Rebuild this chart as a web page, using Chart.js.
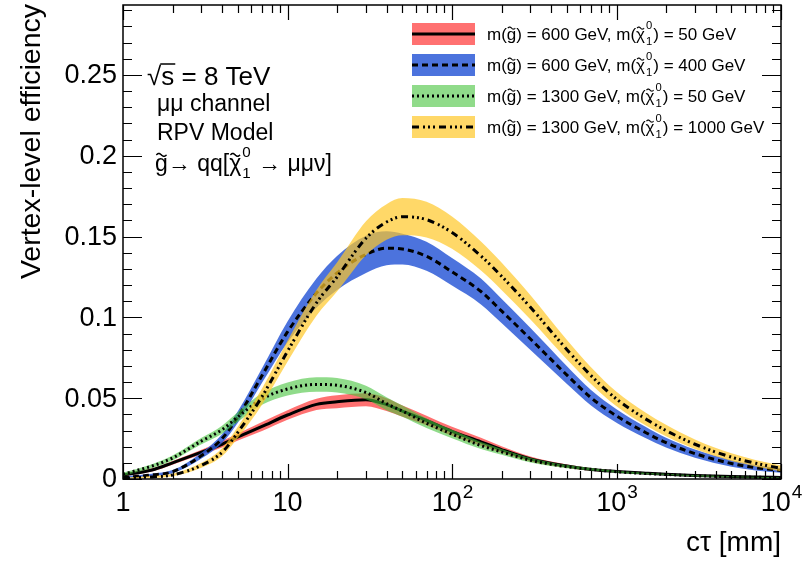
<!DOCTYPE html>
<html>
<head>
<meta charset="utf-8">
<script src="https://cdn.jsdelivr.net/npm/chart.js@4/dist/chart.umd.min.js"></script>
<style>
  html, body { margin: 0; padding: 0; background: #fff; }
  #wrap { width: 802px; height: 565px; }
</style>
</head>
<body>
<div id="wrap"><canvas id="c" width="802" height="565"></canvas></div>
<script>
// Proper decay length c*tau [mm] at which the efficiency was evaluated
const ctau = [1, 1.5, 2, 3, 4, 5, 7, 10, 15, 20, 30, 40, 50, 70, 100, 150, 200, 300, 500, 700, 1000, 1500, 2000, 3000, 5000, 7000, 10000];

// m(gluino) = 600 GeV, m(neutralino) = 50 GeV
const eff600_50 = [0.0025, 0.0056, 0.0100, 0.0166, 0.0215, 0.0260, 0.0325, 0.0396, 0.0462, 0.0478, 0.0490, 0.0460, 0.0420, 0.0362, 0.0295, 0.0230, 0.0182, 0.0124, 0.0080, 0.0059, 0.0047, 0.0036, 0.0029, 0.0022, 0.0015, 0.0012, 0.0010];
const err600_50 = [0.0008, 0.0010, 0.0012, 0.0015, 0.0020, 0.0022, 0.0028, 0.0030, 0.0035, 0.0040, 0.0040, 0.0040, 0.0035, 0.0030, 0.0028, 0.0025, 0.0020, 0.0015, 0.0010, 0.0008, 0.0006, 0.0005, 0.0005, 0.0004, 0.0004, 0.0003, 0.0003];

// m(gluino) = 600 GeV, m(neutralino) = 400 GeV
const eff600_400 = [0.0010, 0.0025, 0.0045, 0.0145, 0.0250, 0.0385, 0.0640, 0.0910, 0.1150, 0.1275, 0.1390, 0.1428, 0.1423, 0.1378, 0.1282, 0.1160, 0.1040, 0.0866, 0.0643, 0.0503, 0.0390, 0.0288, 0.0225, 0.0157, 0.0096, 0.0070, 0.0053];
const err600_400 = [0.0005, 0.0007, 0.0010, 0.0018, 0.0027, 0.0035, 0.0045, 0.0065, 0.0090, 0.0105, 0.0115, 0.0105, 0.0095, 0.0090, 0.0085, 0.0080, 0.0075, 0.0068, 0.0055, 0.0048, 0.0042, 0.0035, 0.0030, 0.0025, 0.0020, 0.0017, 0.0015];

// m(gluino) = 1300 GeV, m(neutralino) = 50 GeV
const eff1300_50 = [0.0030, 0.0080, 0.0130, 0.0235, 0.0305, 0.0385, 0.0495, 0.0557, 0.0585, 0.0580, 0.0535, 0.0466, 0.0420, 0.0345, 0.0278, 0.0207, 0.0168, 0.0116, 0.0076, 0.0060, 0.0045, 0.0034, 0.0028, 0.0020, 0.0014, 0.0011, 0.0008];
const err1300_50 = [0.0010, 0.0012, 0.0015, 0.0020, 0.0025, 0.0030, 0.0035, 0.0040, 0.0045, 0.0045, 0.0042, 0.0040, 0.0035, 0.0030, 0.0026, 0.0022, 0.0018, 0.0014, 0.0010, 0.0008, 0.0006, 0.0005, 0.0004, 0.0004, 0.0003, 0.0003, 0.0002];

// m(gluino) = 1300 GeV, m(neutralino) = 1000 GeV
const eff1300_1000 = [0.0005, 0.0013, 0.0025, 0.0085, 0.0165, 0.0290, 0.0510, 0.0790, 0.1090, 0.1250, 0.1490, 0.1590, 0.1623, 0.1605, 0.1525, 0.1380, 0.1255, 0.1062, 0.0800, 0.0640, 0.0495, 0.0372, 0.0300, 0.0215, 0.0135, 0.0098, 0.0066];
const err1300_1000 = [0.0004, 0.0006, 0.0008, 0.0015, 0.0025, 0.0035, 0.0050, 0.0065, 0.0080, 0.0090, 0.0105, 0.0110, 0.0115, 0.0110, 0.0100, 0.0090, 0.0085, 0.0075, 0.0060, 0.0052, 0.0045, 0.0040, 0.0036, 0.0030, 0.0024, 0.0020, 0.0018];

// Legend masses [GeV]
const gluinoMass = [600, 600, 1300, 1300];
const neutralinoMass = [50, 400, 50, 1000];

// Axis ticks and labels
const xMajor = [1, 10, 100, 1000, 10000];
const xLabelBase = ['1', '10', '10', '10', '10'];
const xLabelExp = ['', '', '2', '3', '4'];
const yMajor = [0, 0.05, 0.1, 0.15, 0.2, 0.25];
const yLabels = ['0', '0.05', '0.1', '0.15', '0.2', '0.25'];
const yMax = 0.2933;

const FONT = '"Liberation Sans", Arial, Helvetica, sans-serif';
const font = px => px + 'px ' + FONT;

const series = [
  { eff: eff600_50,    err: err600_50,    band: 'rgba(255,18,18,0.6)',  dash: [] },
  { eff: eff600_400,   err: err600_400,   band: 'rgba(45,90,215,0.85)', dash: [6, 4] },
  { eff: eff1300_50,   err: err1300_50,   band: 'rgba(70,195,60,0.6)',  dash: [2, 3] },
  { eff: eff1300_1000, err: err1300_1000, band: 'rgba(255,200,40,0.7)', dash: [7, 4, 2, 3, 2, 3, 2, 4] }
];

const pts = vals => ctau.map((c, i) => ({ x: c, y: vals[i] }));

const datasets = [];
series.forEach((s, k) => {
  const base = (series.length - k) * 3;
  const hi = s.eff.map((v, i) => v + s.err[i]);
  const lo = s.eff.map((v, i) => Math.max(0, v - s.err[i]));
  datasets.push({
    data: pts(hi), fill: '+1', backgroundColor: s.band, borderColor: 'rgba(0,0,0,0)',
    borderWidth: 0, pointRadius: 0, cubicInterpolationMode: 'monotone', order: base + 2
  });
  datasets.push({
    data: pts(lo), fill: false, borderColor: 'rgba(0,0,0,0)',
    borderWidth: 0, pointRadius: 0, cubicInterpolationMode: 'monotone', order: base + 1
  });
  datasets.push({
    data: pts(s.eff), fill: false, borderColor: '#000', borderWidth: 3, borderDash: s.dash,
    borderCapStyle: 'butt', pointRadius: 0, cubicInterpolationMode: 'monotone', order: base
  });
});

function drawTilde(ctx, cx, cy, w, h, lw) {
  ctx.save();
  ctx.beginPath();
  ctx.lineWidth = lw;
  ctx.strokeStyle = '#000';
  for (let i = 0; i <= 20; i++) {
    const t = i / 20;
    const px = cx - w / 2 + t * w;
    const py = cy - Math.sin(2 * Math.PI * t) * h / 2;
    if (i) ctx.lineTo(px, py); else ctx.moveTo(px, py);
  }
  ctx.stroke();
  ctx.restore();
}

// Text with tilde accents and stacked sub/superscripts
function drawRich(ctx, x, y, parts, size) {
  ctx.textAlign = 'left';
  ctx.textBaseline = 'alphabetic';
  ctx.fillStyle = '#000';
  for (const p of parts) {
    if (typeof p === 'string') {
      ctx.font = font(size);
      ctx.fillText(p, x, y);
      x += ctx.measureText(p).width;
    } else if (p.tl) {
      ctx.font = font(size);
      const w = ctx.measureText(p.tl).width;
      ctx.fillText(p.tl, x, y);
      drawTilde(ctx, x + w / 2, y - size * 0.7, w * 0.8, size * 0.12, Math.max(1, size * 0.065));
      x += w;
    } else {
      const s = size * 0.66;
      ctx.font = font(s);
      const w = Math.max(ctx.measureText(p.sub).width, ctx.measureText(p.sup).width);
      ctx.fillText(p.sup, x + 1, y - size * 0.62);
      ctx.fillText(p.sub, x + 1, y + size * 0.3);
      x += w + 2;
    }
  }
  return x;
}

const decor = {
  id: 'decor',
  afterDraw(chart) {
    const { ctx, chartArea: a, scales } = chart;
    const xs = scales.x, ys = scales.y;
    ctx.save();
    ctx.strokeStyle = '#000';
    ctx.fillStyle = '#000';
    ctx.setLineDash([]);

    // frame
    ctx.lineWidth = 1.5;
    ctx.strokeRect(a.left, a.top, a.right - a.left, a.bottom - a.top);

    // y ticks (left and right, pointing inwards)
    ctx.lineWidth = 1.2;
    for (let i = 0; i <= 29; i++) {
      const py = Math.round(ys.getPixelForValue(i / 100)) + 0.5;
      const len = i % 5 === 0 ? 19 : 9;
      ctx.beginPath();
      ctx.moveTo(a.left, py); ctx.lineTo(a.left + len, py);
      ctx.moveTo(a.right, py); ctx.lineTo(a.right - len, py);
      ctx.stroke();
    }
    // x ticks (bottom and top)
    for (const d of [1, 10, 100, 1000]) {
      for (let k = 1; k <= 10; k++) {
        const v = k * d;
        if (k === 10 && d !== 1000) continue;
        const px = Math.round(xs.getPixelForValue(v)) + 0.5;
        const len = (k === 1 || k === 10) ? 15 : 8;
        ctx.beginPath();
        ctx.moveTo(px, a.bottom); ctx.lineTo(px, a.bottom - len);
        ctx.moveTo(px, a.top); ctx.lineTo(px, a.top + len);
        ctx.stroke();
      }
    }

    // y tick labels
    ctx.font = font(27);
    ctx.textAlign = 'right';
    ctx.textBaseline = 'middle';
    yMajor.forEach((v, i) => ctx.fillText(yLabels[i], a.left - 6, ys.getPixelForValue(v) + 1));

    // x tick labels
    ctx.textBaseline = 'alphabetic';
    ctx.textAlign = 'left';
    xMajor.forEach((v, i) => {
      const px = xs.getPixelForValue(v);
      ctx.font = font(27);
      const wb = ctx.measureText(xLabelBase[i]).width;
      ctx.font = font(19);
      const we = xLabelExp[i] ? ctx.measureText(xLabelExp[i]).width : 0;
      const x0 = px - (wb + we) / 2;
      ctx.font = font(27);
      ctx.fillText(xLabelBase[i], x0, 511);
      if (xLabelExp[i]) { ctx.font = font(19); ctx.fillText(xLabelExp[i], x0 + wb + 1, 498); }
    });

    // axis titles
    ctx.font = font(28);
    ctx.textAlign = 'right';
    ctx.fillText('c\u03C4 [mm]', a.right, 551);
    ctx.save();
    ctx.translate(40, a.top - 1);
    ctx.rotate(-Math.PI / 2);
    ctx.textAlign = 'right';
    ctx.font = font(28.5);
    ctx.fillText('Vertex-level efficiency', 0, 0);
    ctx.restore();

    // sqrt(s) label
    ctx.textAlign = 'left';
    ctx.font = font(26);
    const rx = 147, ry = 85;
    ctx.fillText('\u221A', rx, ry);
    const wr = ctx.measureText('\u221A').width;
    ctx.fillText('s = 8 TeV', rx + wr, ry);
    const ws = ctx.measureText('s').width;
    ctx.lineWidth = 1.5;
    ctx.beginPath();
    ctx.moveTo(rx + wr - 1, ry - 21);
    ctx.lineTo(rx + wr + ws + 1, ry - 21);
    ctx.stroke();

    ctx.font = font(23);
    ctx.fillText('\u03BC\u03BC channel', 157, 111);
    ctx.fillText('RPV Model', 157, 140);
    drawRich(ctx, 155, 171, [{ tl: 'g' }, '\u2192 qq[', { tl: '\u03C7' }, { sub: '1', sup: '0' }, ' \u2192 \u03BC\u03BC\u03BD]'], 23);

    // legend
    series.forEach((s, i) => {
      const cy = 34 + i * 31;
      ctx.fillStyle = s.band;
      ctx.fillRect(412, cy - 11, 63, 22);
      ctx.strokeStyle = '#000';
      ctx.lineWidth = 3;
      ctx.lineCap = 'butt';
      ctx.setLineDash(s.dash);
      ctx.beginPath();
      ctx.moveTo(412, cy); ctx.lineTo(475, cy);
      ctx.stroke();
      ctx.setLineDash([]);
      drawRich(ctx, 487, cy + 6, [
        'm(', { tl: 'g' }, ') = ' + gluinoMass[i] + ' GeV, m(', { tl: '\u03C7' },
        { sub: '1', sup: '0' }, ') = ' + neutralinoMass[i] + ' GeV'
      ], 17);
    });
    ctx.restore();
  }
};

new Chart(document.getElementById('c'), {
  type: 'line',
  data: { datasets },
  options: {
    responsive: false,
    animation: false,
    events: [],
    layout: { padding: { left: 123, right: 21, top: 5, bottom: 86 } },
    plugins: { legend: { display: false }, tooltip: { enabled: false } },
    scales: {
      x: { type: 'logarithmic', min: 1, max: 10000, display: false },
      y: { type: 'linear', min: 0, max: yMax, display: false }
    }
  },
  plugins: [decor]
});
</script>
</body>
</html>
